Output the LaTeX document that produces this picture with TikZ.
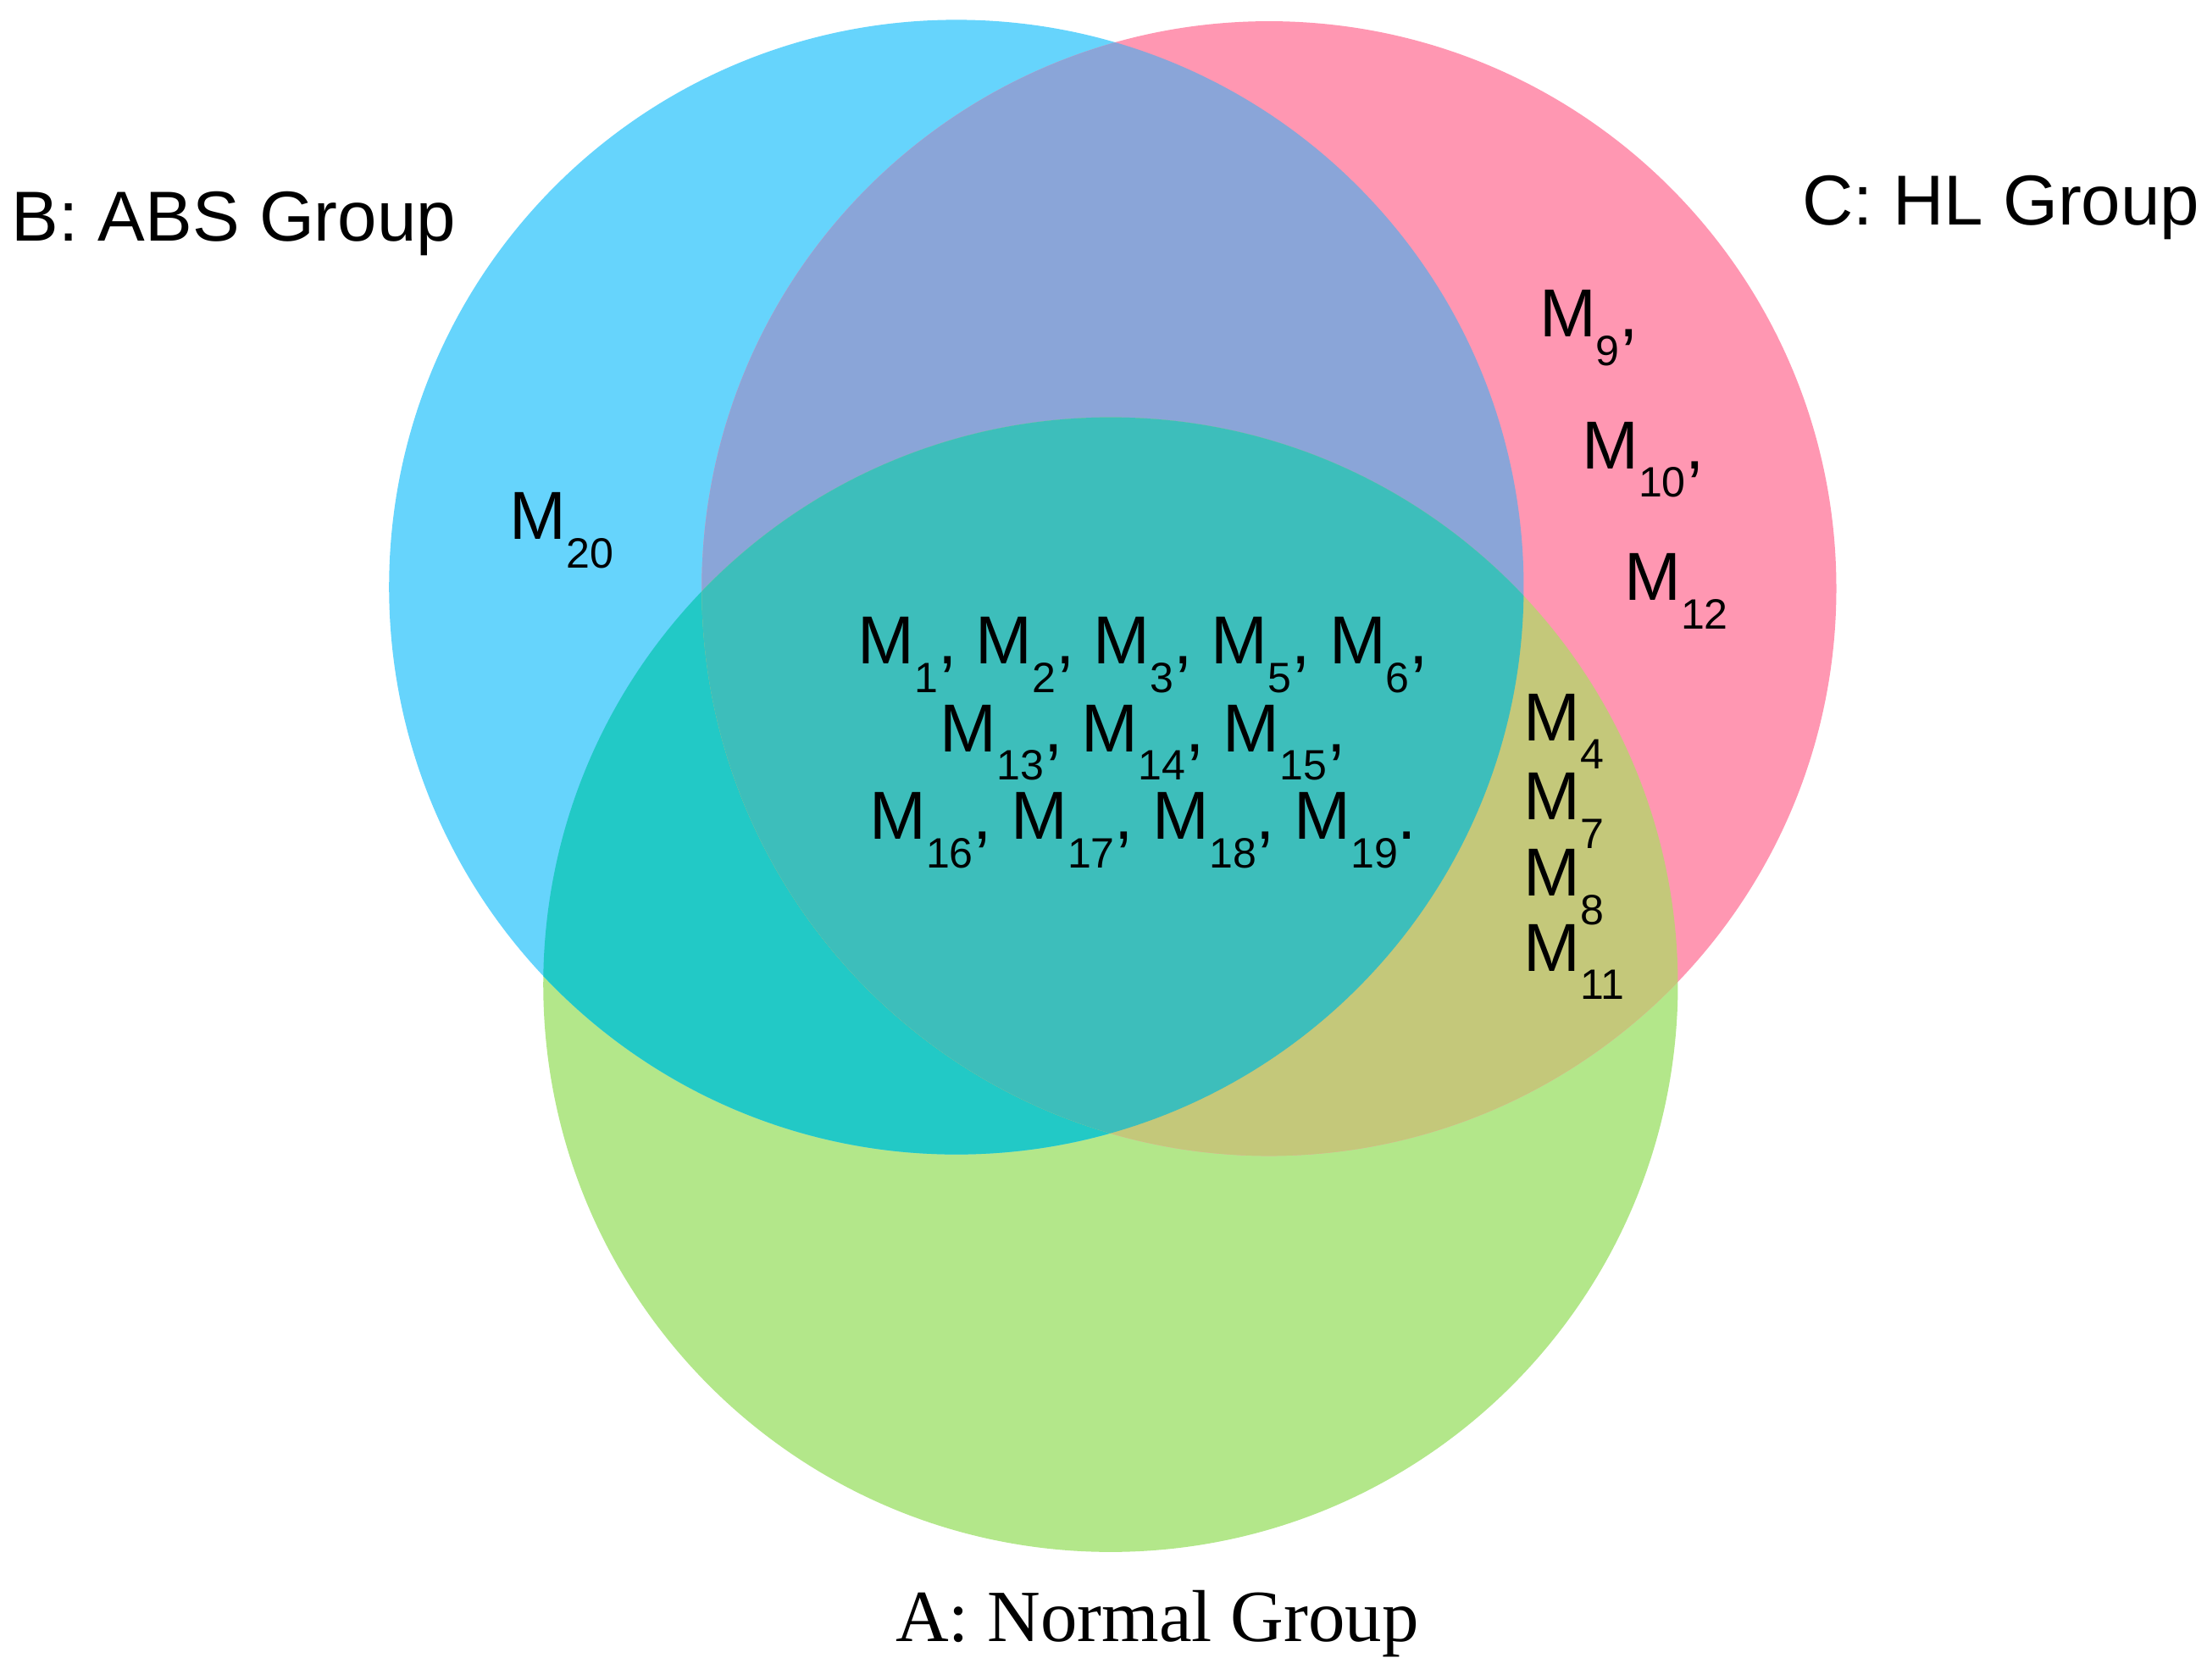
\documentclass[tikz,border=0pt]{standalone}
\usepackage{fontspec}
\setmainfont{Liberation Sans}
\newfontfamily\serifA{Liberation Serif}
\newcommand\Msb[1]{M\raisebox{-0.42em}{\fontsize{30}{30}\selectfont #1}}
\definecolor{cB}{HTML}{66D4FC}
\definecolor{cC}{HTML}{FF97B2}
\definecolor{cA}{HTML}{B3E78A}
\definecolor{cBC}{HTML}{8AA5D8}
\definecolor{cAB}{HTML}{22C9C6}
\definecolor{cAC}{HTML}{C4C87A}
\definecolor{cABC}{HTML}{3DBEBB}
\begin{document}
\begin{tikzpicture}[x=1pt,y=-1pt,
  lbl/.style={font=\fontsize{50}{60}\selectfont, inner sep=0pt},
  ml/.style={font=\fontsize{48}{62}\selectfont, inner sep=0pt, align=center}]
\useasboundingbox (0,0) rectangle (1560,1187);
\def\cA{(785,696) circle (401)}
\def\cB{(676,415) circle (401)}
\def\cC{(897,416) circle (401)}
\fill[cA] \cA;
\fill[cB] \cB;
\fill[cC] \cC;
\begin{scope}\clip \cB; \fill[cBC] \cC; \fill[cAB] \cA; \end{scope}
\begin{scope}\clip \cC; \fill[cAC] \cA; \end{scope}
\begin{scope}\clip \cB; \clip \cC; \fill[cABC] \cA; \end{scope}
\node[lbl, anchor=west] (lb) at (8,158) {B: ABS Group};
\node[lbl, anchor=east] (lc) at (1555,147) {C: HL Group};
\node[lbl, font=\serifA\fontsize{52}{60}\selectfont] (la) at (818,1148) {A: Normal Group};
\node[ml, anchor=west] (m20) at (360,375) {\Msb{20}};
\node[ml] (mid) at (808,525) {\Msb{1}, \Msb{2}, \Msb{3}, \Msb{5}, \Msb{6},\\ \Msb{13}, \Msb{14}, \Msb{15},\\ \Msb{16}, \Msb{17}, \Msb{18}, \Msb{19}.};
\node[ml, anchor=west] (m9) at (1088,232) {\Msb{9},};
\node[ml, anchor=west] (m10) at (1118,325) {\Msb{10},};
\node[ml, anchor=west] (m12) at (1148,418) {\Msb{12}};
\node[ml, anchor=west] (m4) at (1077,517) {\Msb{4}};
\node[ml, anchor=west] (m7) at (1077,573) {\Msb{7}};
\node[ml, anchor=west] (m8) at (1077,627) {\Msb{8}};
\node[ml, anchor=west] (m11) at (1077,680) {\Msb{11}};
\end{tikzpicture}
\end{document}
